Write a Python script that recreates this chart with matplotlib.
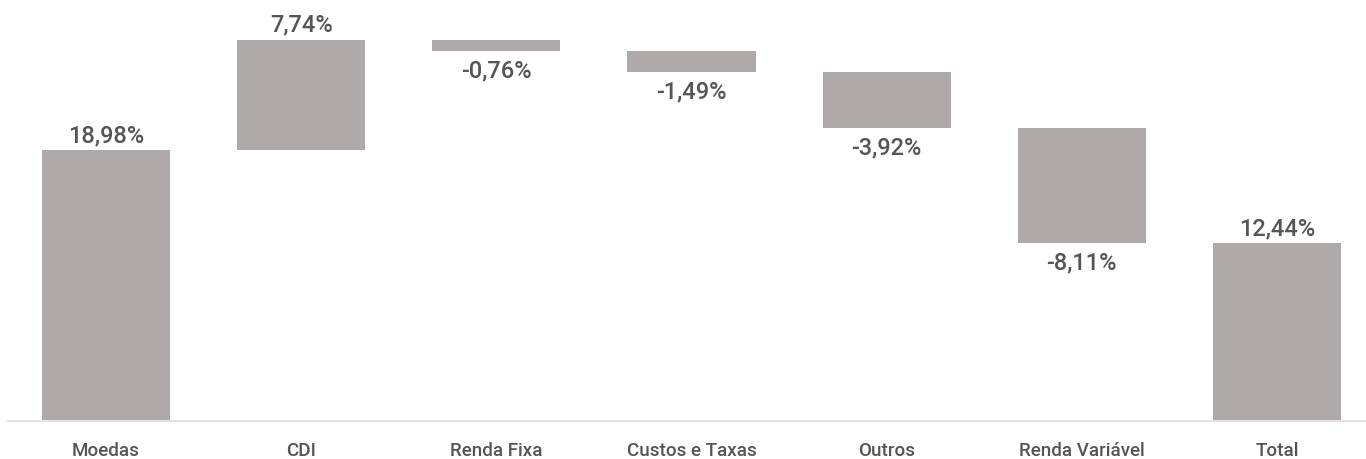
import matplotlib
matplotlib.use("Agg")
import matplotlib.pyplot as plt
from matplotlib import font_manager

categories = ["Moedas", "CDI", "Renda Fixa", "Custos e Taxas", "Outros", "Renda Variável", "Total"]
changes = [18.98, 7.74, -0.76, -1.49, -3.92, -8.11]
total = 12.44
labels = ["18,98%", "7,74%", "-0,76%", "-1,49%", "-3,92%", "-8,11%", "12,44%"]

avail = {f.name for f in font_manager.fontManager.ttflist}
fams = [f for f in ["Roboto", "DejaVu Sans"] if f in avail]
plt.rcParams['font.family'] = fams

bar_color = "#AFAAA9"
text_color = "#555555"

W, H = 1366, 460
fig = plt.figure(figsize=(W / 100, H / 100), dpi=100)
ppu = 14.22
x0, x6 = 106, 1277
step = (x6 - x0) / 6
pad = 0.45
left_px = x0 - pad * step
right_px = x6 + pad * step
ymax = 26.72
ax = fig.add_axes([left_px / W, (H - 421) / H, (right_px - left_px) / W, ymax * ppu / H])
ax.set_xlim(-pad, 6 + pad)
ax.set_ylim(0, ymax)

bottoms, heights = [], []
cum = 0
for v in changes:
    if v >= 0:
        bottoms.append(cum)
        heights.append(v)
    else:
        bottoms.append(cum + v)
        heights.append(-v)
    cum += v
bottoms.append(0)
heights.append(total)
vals = changes + [total]

xs = list(range(len(categories)))
ax.bar(xs, heights, bottom=bottoms, width=0.656, color=bar_color, zorder=2)

for i, (b, h, v) in enumerate(zip(bottoms, heights, vals)):
    if v >= 0:
        ax.annotate(labels[i], (i, b + h), xytext=(0, 3), textcoords="offset points",
                    ha="center", va="bottom", fontsize=17, color=text_color, fontweight="medium")
    else:
        ax.annotate(labels[i], (i, b), xytext=(0, -5.5), textcoords="offset points",
                    ha="center", va="top", fontsize=17, color=text_color, fontweight="medium")

for s in ["top", "right", "left", "bottom"]:
    ax.spines[s].set_visible(False)
fig.add_artist(plt.Line2D([8 / W, 1.0], [(H - 421.5) / H] * 2, color="#e3e3e3", lw=1.5))

ax.set_yticks([])
ax.set_xticks(xs)
ax.set_xticklabels(categories, fontsize=13.5, color=text_color, fontweight="medium")
ax.tick_params(axis="x", length=0, pad=15)

fig.savefig("out.png", dpi=100, facecolor="white")
